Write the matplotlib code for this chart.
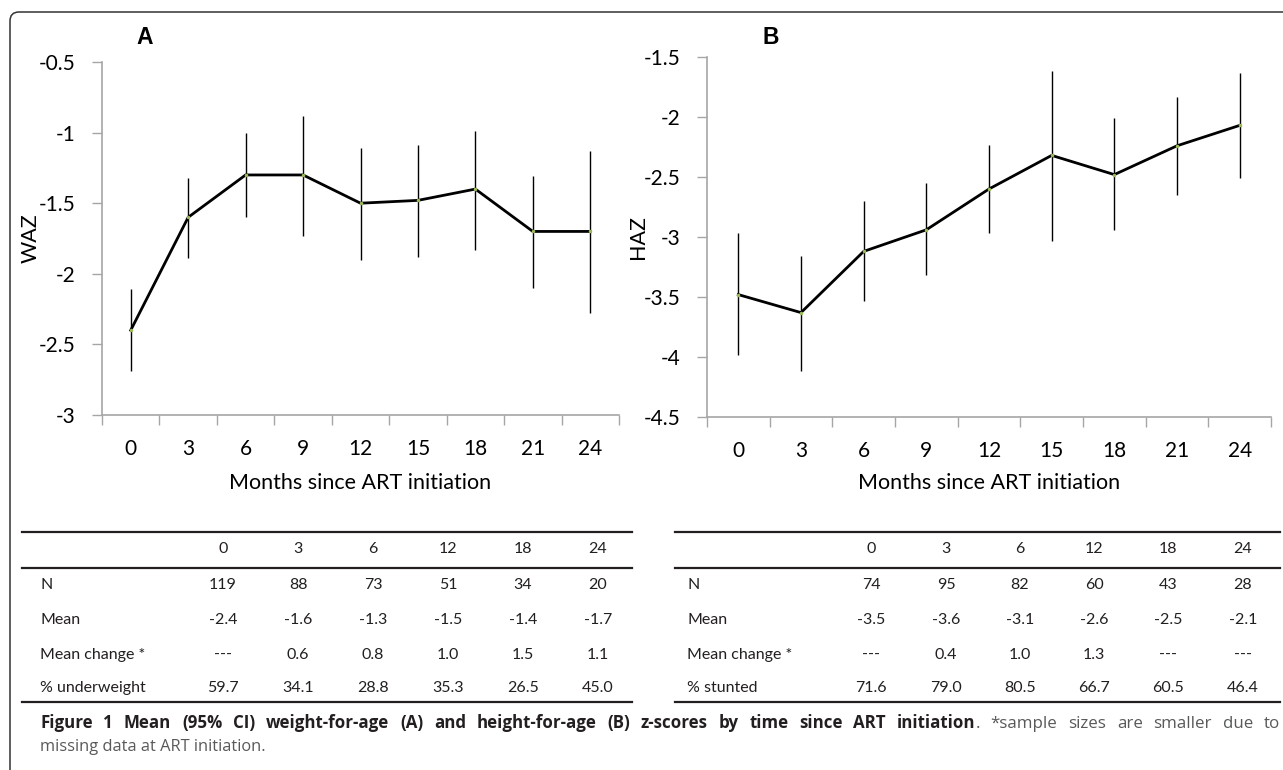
import numpy as np
import matplotlib
matplotlib.use('Agg')
import matplotlib.pyplot as plt
from matplotlib.patches import FancyBboxPatch
from matplotlib.lines import Line2D

# chart data
months = ['0', '3', '6', '9', '12', '15', '18', '21', '24']

waz_mean = [-2.40, -1.60, -1.30, -1.30, -1.50, -1.48, -1.40, -1.70, -1.70]
waz_low = [-2.69, -1.89, -1.60, -1.73, -1.90, -1.88, -1.83, -2.10, -2.28]
waz_high = [-2.11, -1.32, -1.00, -0.88, -1.11, -1.09, -0.99, -1.31, -1.13]

haz_mean = [-3.48, -3.63, -3.12, -2.94, -2.60, -2.32, -2.48, -2.24, -2.07]
haz_low = [-3.98, -4.12, -3.53, -3.32, -2.97, -3.03, -2.94, -2.65, -2.51]
haz_high = [-2.97, -3.16, -2.70, -2.55, -2.23, -1.62, -2.01, -1.83, -1.63]

# table data
table_cols = ['0', '3', '6', '12', '18', '24']
row_labels_a = ['N', 'Mean', 'Mean change *', '% underweight']
rows_a = [['119', '88', '73', '51', '34', '20'],
          ['-2.4', '-1.6', '-1.3', '-1.5', '-1.4', '-1.7'],
          ['---', '0.6', '0.8', '1.0', '1.5', '1.1'],
          ['59.7', '34.1', '28.8', '35.3', '26.5', '45.0']]
row_labels_b = ['N', 'Mean', 'Mean change *', '% stunted']
rows_b = [['74', '95', '82', '60', '43', '28'],
          ['-3.5', '-3.6', '-3.1', '-2.6', '-2.5', '-2.1'],
          ['---', '0.4', '1.0', '1.3', '---', '---'],
          ['71.6', '79.0', '80.5', '66.7', '60.5', '46.4']]

caption_bold = ('Figure 1 Mean (95% CI) weight-for-age (A) and height-for-age (B) '
                'z-scores by time since ART initiation')
caption_rest = '. *sample sizes are smaller due to'
caption_line2 = 'missing data at ART initiation.'

W, H = 1283, 770
FONT = 'Lato'
AXCOL = '#a6a6a6'
TXT = '#231f20'
CAPGRAY = '#58595b'


def px(x, y):
    # pixel (from top-left) -> figure fraction
    return x / W, 1 - y / H


def drawPanel(fig, rect, mean, low, high, ylim, yticks, ylabel, ylabel_x, xlabel_y,
              letter, letter_pos):
    ax = fig.add_axes(rect)
    x = np.arange(len(months))
    ax.vlines(x, low, high, color='black', lw=1.0)
    ax.plot(x, mean, color='black', lw=2.0, zorder=3)
    ax.plot(x, mean, ls='none', marker='o', ms=1.5, color='#9bbb59', zorder=4)
    ax.set_xlim(-0.5, len(months) - 0.5)
    ax.set_ylim(*ylim)
    ax.set_yticks(yticks)
    ax.set_yticklabels([('%g' % v) for v in yticks], fontfamily=FONT, fontsize=15)
    ax.set_xticks(np.arange(-0.5, len(months), 1))
    ax.set_xticklabels([])
    ax.set_xticks(x, minor=True)
    ax.set_xticklabels(months, minor=True, fontfamily=FONT, fontsize=15)
    ax.tick_params(axis='x', which='major', direction='out', length=7, width=1, color=AXCOL)
    ax.tick_params(axis='x', which='minor', length=0, pad=17)
    ax.tick_params(axis='y', direction='out', length=7, width=1, color=AXCOL, pad=12)
    for s in ['top', 'right']:
        ax.spines[s].set_visible(False)
    for s in ['left', 'bottom']:
        ax.spines[s].set_color(AXCOL)
        ax.spines[s].set_linewidth(1.2)
    ax.set_ylabel(ylabel, fontfamily=FONT, fontsize=15.5)
    ax.yaxis.set_label_coords(ylabel_x, 0.5)
    ax.set_xlabel('Months since ART initiation', fontfamily=FONT, fontsize=15.5)
    ax.xaxis.set_label_coords(0.5, xlabel_y)
    fig.text(*px(*letter_pos), letter, fontfamily='Liberation Sans', fontweight='bold',
             fontsize=16.5, ha='center', va='center')
    return ax


def drawTable(fig, x0, x1, label_x, col_x, labels, rows):
    for y in [532, 568, 702]:
        fig.add_artist(Line2D([x0 / W, x1 / W], [1 - y / H, 1 - y / H],
                              color=TXT, lw=1.6))
    for cx, c in zip(col_x, table_cols):
        fig.text(*px(cx, 549), c, ha='center', va='center', fontfamily=FONT,
                 fontsize=11.5, color=TXT)
    row_y = [585, 620, 655, 688]
    for ry, lab, vals in zip(row_y, labels, rows):
        fig.text(*px(label_x, ry), lab, ha='left', va='center', fontfamily=FONT,
                 fontsize=11.5, color=TXT)
        for cx, v in zip(col_x, vals):
            fig.text(*px(cx, ry), v, ha='center', va='center', fontfamily=FONT,
                     fontsize=11.5, color=TXT)


def drawJustified(fig, words, x0, x1, y, size):
    # words: list of lists of (text, bold) segments, justified between x0 and x1
    renderer = fig.canvas.get_renderer()
    placed = []
    total = 0
    for w in words:
        segs = []
        for s, bold in w:
            t = fig.text(0, 0, s, fontfamily='Open Sans', fontsize=size,
                         fontweight='bold' if bold else 'normal',
                         color=TXT if bold else CAPGRAY, va='baseline')
            wd = t.get_window_extent(renderer).width
            segs.append((t, wd))
            total += wd
        placed.append(segs)
    gap = (x1 - x0 - total) / (len(words) - 1)
    x = x0
    for segs in placed:
        for t, wd in segs:
            t.set_position(px(x, y))
            x += wd
        x += gap


def main():
    fig = plt.figure(figsize=(W / 100, H / 100), dpi=100)

    # frame with rounded top-left corner
    frame = FancyBboxPatch((0.10, -1.0), 20, 7.70 - 0.12 + 1.0,
                           boxstyle='round,pad=0,rounding_size=0.09',
                           transform=fig.dpi_scale_trans, fill=False,
                           edgecolor='#333333', lw=1.1)
    fig.add_artist(frame)

    drawPanel(fig, [102 / W, 1 - 415 / H, 517 / W, 353 / H],
              waz_mean, waz_low, waz_high, (-3, -0.5),
              [-3, -2.5, -2, -1.5, -1, -0.5], 'WAZ', -0.118, -0.164, 'A', (145, 38))
    drawPanel(fig, [707 / W, 1 - 417 / H, 564 / W, 360 / H],
              haz_mean, haz_low, haz_high, (-4.5, -1.5),
              [-4.5, -4, -3.5, -3, -2.5, -2, -1.5], 'HAZ', -0.105, -0.156, 'B', (771, 38))

    drawTable(fig, 22, 632, 40, [223, 298, 373, 448, 523, 598], row_labels_a, rows_a)
    drawTable(fig, 675, 1280, 687, [871, 946, 1020, 1094, 1168, 1243], row_labels_b, rows_b)

    # caption, first line justified
    bold_words = caption_bold.split(' ')
    rest_words = caption_rest.split(' ')
    words = [[(w, True)] for w in bold_words[:-1]]
    words.append([(bold_words[-1], True), (rest_words[0], False)])
    words += [[(w, False)] for w in rest_words[1:]]
    drawJustified(fig, words, 40, 1280, 728, 12.2)
    fig.text(*px(40, 751), caption_line2, ha='left', va='baseline',
             fontfamily='Open Sans', fontsize=11.8, color=CAPGRAY)

    plt.savefig('out.png', dpi=100)


if __name__ == '__main__':
    main()
